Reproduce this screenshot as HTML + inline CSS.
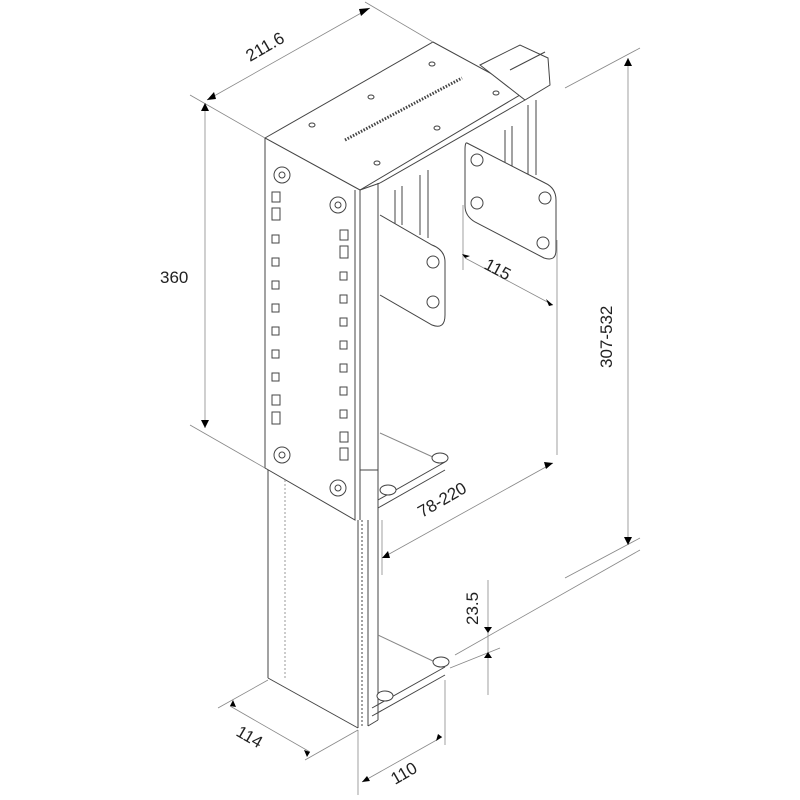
<!DOCTYPE html>
<html><head><meta charset="utf-8"><style>html,body{margin:0;padding:0;background:#fff}svg{display:block}</style></head>
<body>
<svg width="800" height="800" viewBox="0 0 800 800" xmlns="http://www.w3.org/2000/svg" font-family="Liberation Sans, sans-serif">
<g stroke="#444" stroke-width="1" fill="none">
<!-- top face -->
<polygon points="265,138 433,42 525,92 360,190" fill="#fff"/>
<line x1="360" y1="190" x2="380" y2="183"/>
<line x1="380" y1="183" x2="525" y2="100"/>
<line x1="525" y1="92" x2="525" y2="100"/>
<!-- rear bracket top -->
<polygon points="480,65 520,45 548,58 550,85 525,100" fill="#fff"/>
<line x1="510" y1="70" x2="545" y2="52"/>
<!-- top slots -->
<path d="M345,140 L462,78" stroke-width="3" stroke-dasharray="1.5,1.5"/>
<g fill="#fff"><ellipse cx="312" cy="125" rx="3" ry="2"/><ellipse cx="371" cy="97" rx="3" ry="2"/><ellipse cx="432" cy="64" rx="3" ry="2"/><ellipse cx="496" cy="93" rx="3" ry="2"/><ellipse cx="437" cy="128" rx="3" ry="2"/><ellipse cx="377" cy="163" rx="3" ry="2"/></g>
<!-- upper front face -->
<polyline points="265,138 265,468 355,520 355,190"/>
<line x1="360" y1="190" x2="360" y2="520"/>
<!-- upper side -->
<line x1="378" y1="183" x2="378" y2="470"/>
<line x1="360" y1="470" x2="378" y2="470"/>
<!-- vertical rails -->
<line x1="395" y1="190" x2="395" y2="225"/><line x1="402" y1="186" x2="402" y2="225"/>
<line x1="420" y1="175" x2="420" y2="235"/><line x1="428" y1="170" x2="428" y2="238"/>
<line x1="505" y1="130" x2="505" y2="170"/><line x1="512" y1="126" x2="512" y2="170"/>
<line x1="528" y1="105" x2="528" y2="175"/><line x1="536" y1="100" x2="536" y2="175"/>
<!-- front plate -->
<path d="M380,215 L432,245 Q445,250 445,262 L445,315 Q445,330 432,325 L380,295" fill="#fff"/>
<circle cx="433" cy="262" r="6"/><circle cx="433" cy="302" r="6"/>
<!-- rear plate -->
<path d="M467,143 L545,183 Q556,188 556,200 L556,250 Q556,262 544,258 L475,222 Q465,216 465,206 L465,150 Q465,142 467,143Z" fill="#fff"/>
<circle cx="477" cy="160" r="6"/><circle cx="477" cy="203" r="6"/><circle cx="545" cy="198" r="6"/><circle cx="543" cy="243" r="6"/>
<!-- holes/buttons on front -->
<g fill="#fff">
<circle cx="282" cy="175" r="8"/><circle cx="282" cy="175" r="3"/>
<circle cx="338" cy="205" r="8"/><circle cx="338" cy="205" r="3"/>
<circle cx="282" cy="455" r="8"/><circle cx="282" cy="455" r="3"/>
<circle cx="338" cy="488" r="8"/><circle cx="338" cy="488" r="3"/>
</g>
<g>
<rect x="272" y="192" width="8" height="10"/><rect x="272" y="208" width="8" height="12"/>
<rect x="272" y="235" width="7" height="8"/><rect x="272" y="258" width="7" height="8"/><rect x="272" y="281" width="7" height="8"/><rect x="272" y="304" width="7" height="8"/><rect x="272" y="327" width="7" height="8"/><rect x="272" y="350" width="7" height="8"/><rect x="272" y="373" width="7" height="8"/>
<rect x="272" y="395" width="8" height="10"/><rect x="272" y="412" width="8" height="12"/>
<rect x="340" y="230" width="8" height="10"/><rect x="340" y="246" width="8" height="12"/>
<rect x="340" y="272" width="7" height="8"/><rect x="340" y="295" width="7" height="8"/><rect x="340" y="318" width="7" height="8"/><rect x="340" y="341" width="7" height="8"/><rect x="340" y="364" width="7" height="8"/><rect x="340" y="387" width="7" height="8"/><rect x="340" y="410" width="7" height="8"/>
<rect x="340" y="432" width="8" height="10"/><rect x="340" y="448" width="8" height="12"/>
</g>
<!-- lower sleeve -->
<line x1="268" y1="470" x2="268" y2="678"/>
<line x1="268" y1="678" x2="358" y2="728"/>
<line x1="358" y1="520" x2="358" y2="728"/>
<line x1="362" y1="520" x2="362" y2="726" stroke-dasharray="2,2"/>
<line x1="368" y1="520" x2="368" y2="726"/>
<line x1="368" y1="726" x2="378" y2="720"/>
<line x1="378" y1="470" x2="378" y2="720"/>
<line x1="285" y1="480" x2="285" y2="680" stroke-dasharray="2,2" stroke="#999"/>
<!-- upper foot bracket -->
<line x1="378" y1="500" x2="445" y2="462"/><line x1="378" y1="508" x2="445" y2="470"/>
<line x1="380" y1="433" x2="435" y2="458" stroke="#888"/>
<ellipse cx="388" cy="490" rx="8" ry="5" fill="#fff"/><ellipse cx="440" cy="458" rx="8" ry="5" fill="#fff"/>
<!-- lower foot bracket -->
<line x1="372" y1="708" x2="445" y2="667"/><line x1="372" y1="716" x2="445" y2="675"/>
<line x1="378" y1="635" x2="435" y2="662" stroke="#888"/>
<ellipse cx="385" cy="696" rx="8" ry="5" fill="#fff"/><ellipse cx="441" cy="662" rx="8" ry="5" fill="#fff"/>
</g>
<!-- dimensions -->
<g stroke="#888" stroke-width="0.8" fill="none">
<line x1="207" y1="100" x2="370" y2="8"/>
<line x1="190" y1="95" x2="265" y2="138"/><line x1="365" y1="2" x2="433" y2="42"/>
<line x1="205" y1="103" x2="205" y2="428"/>
<line x1="190" y1="425" x2="265" y2="468"/>
<line x1="628" y1="58" x2="628" y2="545"/>
<line x1="565" y1="88" x2="640" y2="48"/><line x1="565" y1="578" x2="640" y2="538"/>
<line x1="465" y1="258" x2="553" y2="305"/>
<line x1="463" y1="205" x2="463" y2="270"/><line x1="557" y1="240" x2="557" y2="455"/>
<line x1="382" y1="558" x2="553" y2="463"/><line x1="382" y1="520" x2="382" y2="575"/>
<line x1="488" y1="580" x2="488" y2="695"/>
<line x1="455" y1="655" x2="640" y2="550"/><line x1="450" y1="668" x2="500" y2="648"/>
<line x1="230" y1="706" x2="310" y2="752"/><line x1="218" y1="708" x2="268" y2="680"/><line x1="305" y1="760" x2="358" y2="730"/>
<line x1="362" y1="782" x2="442" y2="737"/><line x1="358" y1="730" x2="358" y2="795"/><line x1="445" y1="680" x2="445" y2="745"/>
</g>
<g fill="#000">
<polygon points="207,100 214,92 216,99"/><polygon points="370,8 361,16 359,9"/>
<polygon points="205,103 201,111 209,111"/><polygon points="205,428 201,420 209,420"/>
<polygon points="628,58 624,66 632,66"/><polygon points="628,545 624,537 632,537"/>
<polygon points="465,258 462,254 470,256"/><polygon points="553,305 546,299 549,306"/>
<polygon points="382,558 388,551 390,558"/><polygon points="553,463 546,469 544,462"/>
<polygon points="488,633 484,627 492,627"/><polygon points="488,652 484,658 492,658"/>
<polygon points="230,706 236,707 233,700"/><polygon points="310,752 304,750 307,757"/>
<polygon points="362,782 370,781 367,776"/><polygon points="442,737 438,734 436,741"/>
</g>
<g font-size="17" fill="#222">
<text transform="translate(250,62) rotate(-30)">211.6</text>
<text x="160" y="283">360</text>
<text transform="translate(612,368) rotate(-90)">307-532</text>
<text transform="translate(483,268) rotate(28)">115</text>
<text transform="translate(422,518) rotate(-30)">78-220</text>
<text transform="translate(478,625) rotate(-90)">23.5</text>
<text transform="translate(235,735) rotate(30)">114</text>
<text transform="translate(395,785) rotate(-30)">110</text>
</g>
</svg>
</body></html>
